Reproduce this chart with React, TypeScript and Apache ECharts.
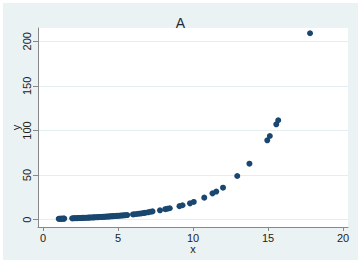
import React, { useEffect, useRef } from "react";
import * as echarts from "echarts";

const xValues: number[] = [
  1.05, 1.1, 1.15, 1.2, 1.25, 1.3, 1.38, 1.42,
  1.95, 2.05, 2.12, 2.2, 2.3, 2.38, 2.45, 2.55, 2.62, 2.7, 2.8, 2.88, 2.95,
  3.05, 3.12, 3.2, 3.3, 3.38, 3.45, 3.55, 3.62, 3.7, 3.8, 3.88, 3.95,
  4.05, 4.12, 4.2, 4.3, 4.38, 4.45, 4.55, 4.62, 4.7, 4.8, 4.9,
  5.0, 5.1, 5.2, 5.3, 5.4, 5.5, 5.62,
  6.0, 6.1, 6.25, 6.4, 6.55, 6.7, 6.8, 7.0, 7.15, 7.3, 7.8,
  8.15, 8.3, 8.45, 9.1, 9.3, 9.8, 10.05, 10.75, 11.3, 11.55, 12.0,
  12.95, 13.76, 14.95, 15.12, 15.55, 15.68, 17.8,
];
const yValues: number[] = [
  1.0, 1.05, 1.05, 1.1, 1.1, 1.15, 1.2, 1.2,
  1.5, 1.6, 1.65, 1.7, 1.75, 1.8, 1.85, 1.9, 2.0, 2.05, 2.1, 2.2, 2.25,
  2.3, 2.4, 2.45, 2.5, 2.6, 2.65, 2.75, 2.8, 2.9, 3.0, 3.05, 3.15,
  3.25, 3.3, 3.4, 3.5, 3.6, 3.7, 3.8, 3.9, 4.0, 4.1, 4.25,
  4.35, 4.5, 4.6, 4.75, 4.9, 5.05, 5.2,
  5.9, 6.1, 6.4, 6.7, 7.0, 7.4, 7.7, 8.3, 8.8, 9.3, 10.5,
  11.8, 12.3, 12.8, 15.2, 16.2, 18.3, 19.9, 24.7, 29.5, 31.5, 35.9,
  49.0, 62.8, 89.0, 93.8, 106.9, 111.5, 209.0,
];
const xTicks: number[] = [0, 5, 10, 15, 20];
const yTicks: number[] = [0, 50, 100, 150, 200];

export default function App() {
  const ref = useRef<HTMLDivElement>(null);
  useEffect(() => {
    if (!ref.current) return;
    const chart = echarts.init(ref.current, null, { renderer: "svg" });
    const font = "Liberation Sans, Arial, sans-serif";
    const data = xValues.map((x, i) => [x, yValues[i]]);
    chart.setOption({
      animation: false,
      backgroundColor: "#ffffff",
      textStyle: { fontFamily: font },
      title: {
        text: "A",
        left: "center",
        top: 11,
        textStyle: { fontFamily: font, fontSize: 14, fontWeight: "normal", color: "#1e2a38" },
      },
      graphic: [
        {
          type: "rect",
          silent: true,
          z: -10,
          shape: { x: 3, y: 3, width: 355, height: 257 },
          style: { fill: "#eaf2f3" },
        },
        {
          type: "rect",
          silent: true,
          z: -9,
          shape: { x: 38, y: 28, width: 310, height: 199 },
          style: { fill: "#ffffff" },
        },
      ],
      grid: { left: 38, right: 13, top: 28, bottom: 37, containLabel: false, outerBoundsMode: "none" },
      xAxis: {
        type: "value",
        min: -0.33,
        max: 20.33,
        name: "x",
        nameLocation: "middle",
        nameGap: 16,
        nameMoveOverlap: false,
        nameTextStyle: { fontSize: 11, color: "#222" },
        axisLine: { show: true, onZero: false, lineStyle: { color: "#888", width: 1 } },
        axisTick: { show: true, length: 4, customValues: xTicks, lineStyle: { color: "#888" } },
        axisLabel: { customValues: xTicks, fontSize: 11, color: "#222", margin: 5 },
        splitLine: { show: false },
      },
      yAxis: {
        type: "value",
        min: -8.2,
        max: 214.9,
        name: "y",
        nameLocation: "middle",
        nameRotate: 90,
        nameGap: 17,
        nameMoveOverlap: false,
        nameTextStyle: { fontSize: 11, color: "#222" },
        axisLine: { show: true, onZero: false, lineStyle: { color: "#888", width: 1 } },
        axisTick: { show: true, length: 5, customValues: yTicks, lineStyle: { color: "#888" } },
        axisLabel: { customValues: yTicks, fontSize: 11, color: "#222", margin: 6, rotate: 90 },
        splitLine: { show: false },
      },
      series: [
        {
          type: "scatter",
          data,
          symbol: "circle",
          symbolSize: 6,
          itemStyle: { color: "#1a476f", opacity: 1 },
          markLine: {
            silent: true,
            symbol: "none",
            label: { show: false },
            lineStyle: { color: "#e3eef0", type: "solid", width: 1 },
            data: yTicks.map((v) => ({ yAxis: v })),
            z: -1,
          },
        },
      ],
    });
    return () => chart.dispose();
  }, []);
  return (
    <div
      ref={ref}
      style={{ position: "absolute", left: 0, top: 0, width: 361, height: 264 }}
    />
  );
}
